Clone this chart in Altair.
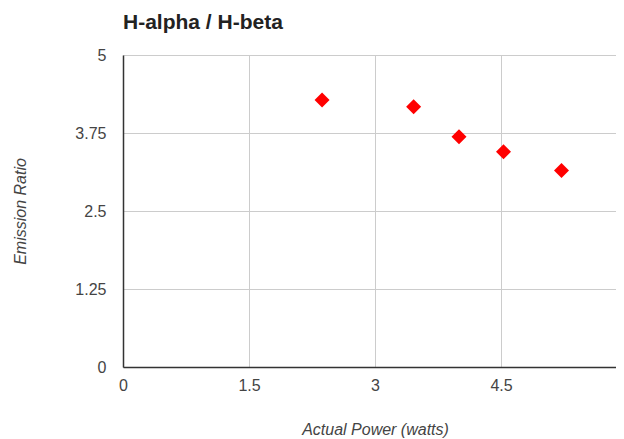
import altair as alt
import pandas as pd

power = [2.37, 3.46, 4.00, 4.53, 5.22]
ratio = [4.28, 4.17, 3.69, 3.45, 3.15]
x_ticks = [0, 1.5, 3, 4.5, 6]
y_ticks = [0, 1.25, 2.5, 3.75, 5]

df = pd.DataFrame({"power": power, "ratio": ratio})

FONT = "Liberation Sans"

# plot area is 84 px per watt; only the part up to the window edge is visible
PLOT_W = 493
X_MAX = PLOT_W / 84.0

chart = (
    alt.Chart(df)
    .mark_point(shape="diamond", filled=True, size=225, color="#ff0000", opacity=1)
    .encode(
        x=alt.X(
            "power:Q",
            scale=alt.Scale(domain=[0, X_MAX], nice=False, zero=True),
            axis=alt.Axis(
                title="Actual Power (watts)",
                values=x_ticks,
                labelExpr="datum.value",
                grid=True,
                ticks=False,
                labelPadding=10,
                labelFlush=False,
                titleX=252,
                titleY=67,
                titleBaseline="alphabetic",
            ),
        ),
        y=alt.Y(
            "ratio:Q",
            scale=alt.Scale(domain=[0, 5], nice=False),
            axis=alt.Axis(
                title="Emission Ratio",
                values=y_ticks,
                labelExpr="datum.value",
                grid=True,
                ticks=False,
                labelPadding=17,
                labelFlush=False,
                titleX=-103,
                titleY=156,
                titleBaseline="middle",
                titleAlign="center",
            ),
        ),
    )
    .properties(
        width=PLOT_W,
        height=312,
        title=alt.TitleParams(
            "H-alpha / H-beta",
            anchor="start",
            frame="group",
            baseline="alphabetic",
            offset=-3,
            fontSize=21,
            fontWeight="bold",
            font=FONT,
            color="#222222",
        ),
        autosize=alt.AutoSizeParams(type="none"),
        padding={"left": 115, "top": 47, "right": 0, "bottom": 72},
    )
    .configure_view(stroke=None)
    .configure_axis(
        labelFont=FONT,
        labelFontSize=16,
        labelColor="#444444",
        titleFont=FONT,
        titleFontSize=16,
        titleFontStyle="italic",
        titleFontWeight="normal",
        titleColor="#444444",
        gridColor="#cccccc",
        gridWidth=1,
        gridOpacity=1,
        domainColor="#333333",
        domainWidth=1.5,
    )
)

chart.save("out.html", embed_options={"renderer": "svg", "actions": False})
